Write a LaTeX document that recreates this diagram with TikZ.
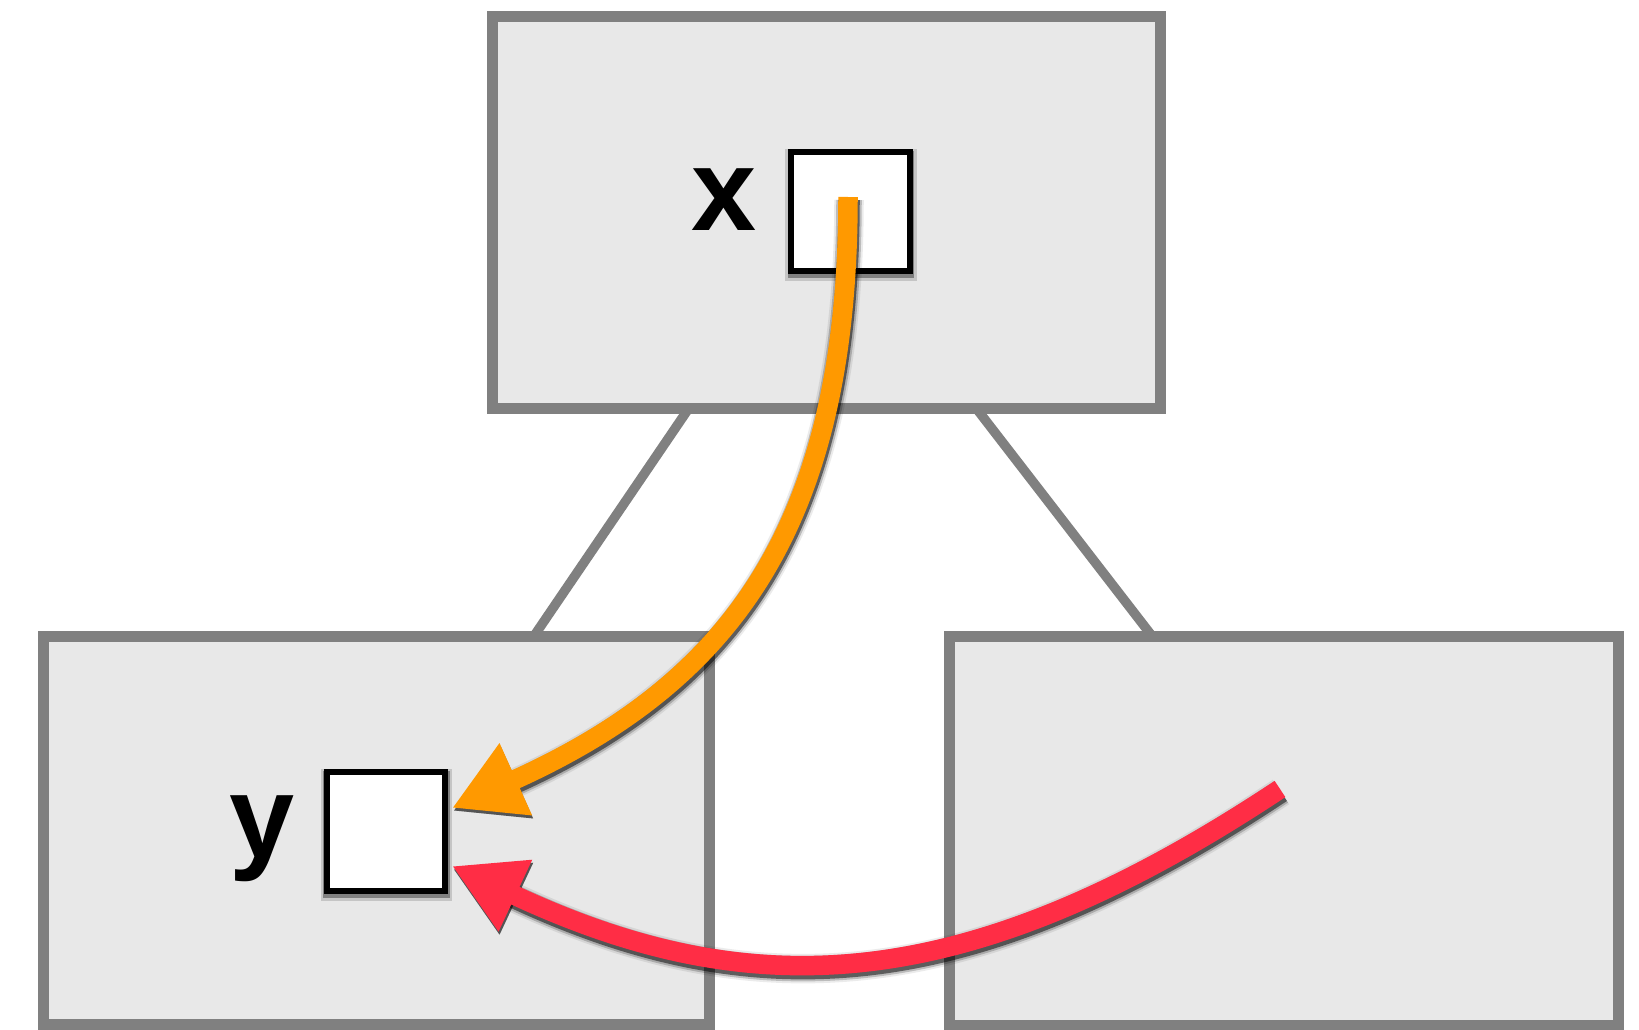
\documentclass[tikz,border=0pt]{standalone}
\usepackage{fontspec}
\setmainfont{Liberation Sans}
\usetikzlibrary{arrows.meta,shadows,backgrounds}

\definecolor{panelfill}{HTML}{E8E8E8}
\definecolor{panelline}{HTML}{808080}
\definecolor{flowA}{HTML}{FF9900}
\definecolor{flowB}{HTML}{FF2D45}

\begin{document}
\begin{tikzpicture}[x=1pt,y=-1pt,
  panel/.style={draw=panelline,fill=panelfill,line width=11pt,rectangle,
    inner sep=0pt,outer sep=0pt},
  slot/.style={draw=black,fill=white,line width=6pt,rectangle,inner sep=0pt,
    minimum width=118.5pt,minimum height=119pt,
    drop shadow={shadow xshift=0.5pt,shadow yshift=-3pt,opacity=.15,fill=black,shadow scale=1.11},
    drop shadow={shadow xshift=0.5pt,shadow yshift=-3pt,opacity=.35,fill=black,shadow scale=1.07}},
  varlabel/.style={font=\bfseries\fontsize{117}{117}\selectfont,inner sep=0pt,anchor=base},
  link/.style={draw=panelline,line width=9.5pt},
  flow/.style={line width=19.5pt,-{Triangle[length=70pt,width=74pt]}},
  flowshadow/.style={flow,draw=black,line width=19.5pt+#1,
    transform canvas={xshift=1pt,yshift=-3pt}},
  shadowA/.style={flowshadow=2pt,opacity=.5},
  shadowB/.style={flowshadow=6pt,opacity=.2},
  shadowC/.style={flowshadow=10pt,opacity=.08}
]
\useasboundingbox (0,0) rectangle (1639,1030);

% three panels
\node[panel,minimum width=668pt,minimum height=391pt] (top)   at (826,212.5) {};
\node[panel,minimum width=666pt,minimum height=388pt] (left)  at (376,830) {};
\node[panel,minimum width=669pt,minimum height=389pt] (right) at (1283.5,830.5) {};

% page background and tree links behind the panels
\begin{scope}[on background layer]
  \fill[white] (0,0) rectangle (1639,1030);
  \draw[link] ([xshift=-137pt]top.south) -- ([xshift=158pt]left.north);
  \draw[link] ([xshift=150pt]top.south) -- ([xshift=-131.5pt]right.north);
\end{scope}

% variables and their slots
\node[varlabel] (xl) at (724.5,230) {x};
\node[varlabel] (yl) at (262,857) {y};
\node[slot] (xs) at (850.5,211.5) {};
\node[slot] (ys) at (386,831.5) {};

% arrow end points and control points
\coordinate (os)  at ([shift={(-2.5pt,14.5pt)}]xs.center);
\coordinate (ot)  at ([shift={(3.75pt,23.5pt)}]ys.east);
\coordinate (oc1) at (848,533);
\coordinate (oc2) at (725,685);
\coordinate (rs)  at ([shift={(-3.5pt,41.5pt)}]right.center);
\coordinate (rt)  at ([shift={(3.75pt,-34.5pt)}]ys.east);
\coordinate (rc1) at (965,998);
\coordinate (rc2) at (751,1006);

% soft shadows of the arrows
\foreach \layer in {shadowC,shadowB,shadowA}{
  \draw[\layer] (os) .. controls (oc1) and (oc2) .. (ot);
  \draw[\layer] (rs) .. controls (rc1) and (rc2) .. (rt);
}

% arrows
\draw[flow,draw=flowA] (os) .. controls (oc1) and (oc2) .. (ot);
\draw[flow,draw=flowB] (rs) .. controls (rc1) and (rc2) .. (rt);
\end{tikzpicture}
\end{document}
